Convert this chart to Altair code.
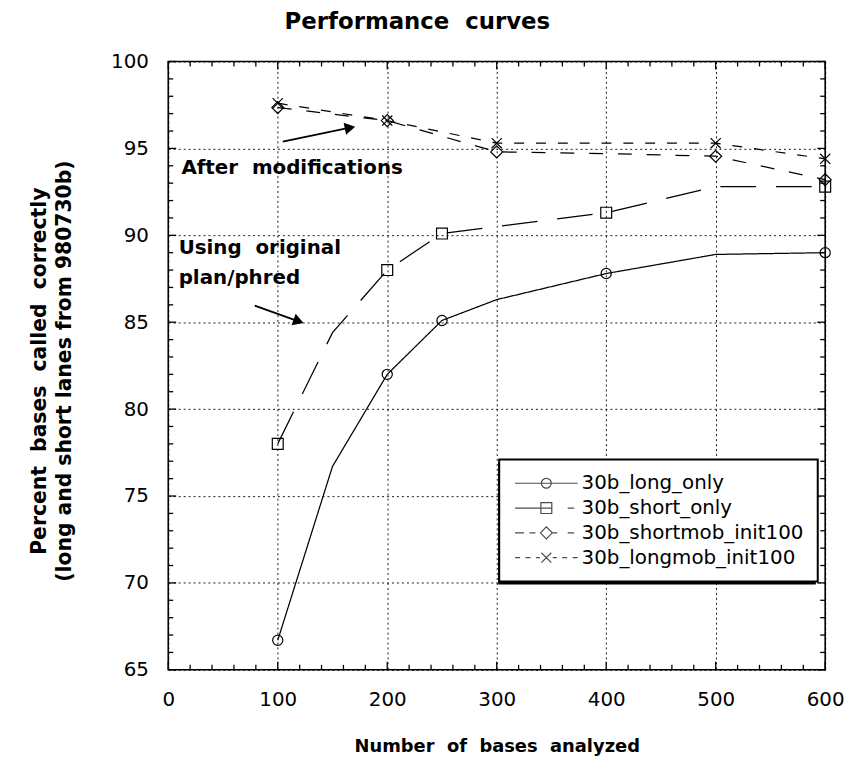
import math
import altair as alt
import pandas as pd

# ---------------- data ----------------
SERIES = ["30b_long_only", "30b_short_only", "30b_shortmob_init100", "30b_longmob_init100"]

long_x = [100, 150, 200, 250, 300, 400, 500, 600]
long_y = [66.7, 76.7, 82.0, 85.1, 86.3, 87.8, 88.9, 89.0]
long_m = [1, 0, 1, 1, 0, 1, 0, 1]

short_x = [100, 150, 200, 250, 300, 400, 500, 600]
short_y = [78.0, 84.4, 88.0, 90.1, 90.5, 91.3, 92.8, 92.8]
short_m = [1, 0, 1, 1, 0, 1, 0, 1]

smob_x = [100, 200, 300, 400, 500, 600]
smob_y = [97.35, 96.6, 94.8, 94.7, 94.55, 93.2]
smob_m = [1, 1, 1, 0, 1, 1]

lmob_x = [100, 200, 300, 400, 500, 600]
lmob_y = [97.6, 96.6, 95.3, 95.3, 95.3, 94.4]
lmob_m = [1, 1, 1, 0, 1, 1]

x_domain = [0, 600]
y_domain = [65, 100]
x_major = [0, 100, 200, 300, 400, 500, 600]
x_minor = [20, 40, 60, 80, 120, 140, 160, 180, 220, 240, 260, 280, 320, 340, 360, 380,
           420, 440, 460, 480, 520, 540, 560, 580]
y_major = [65, 70, 75, 80, 85, 90, 95, 100]
y_minor = [66, 67, 68, 69, 71, 72, 73, 74, 76, 77, 78, 79, 81, 82, 83, 84, 86, 87, 88, 89,
           91, 92, 93, 94, 96, 97, 98, 99]

ann_text = ["After\u00a0 modifications", "Using\u00a0 original", "plan/phred"]
ann_x = [12, 9.5, 9.5]
ann_y = [93.85, 89.25, 87.55]

arrow_x = [104.6, 79]
arrow_y = [95.39, 85.95]
arrow_x2 = [166, 119]
arrow_y2 = [96.19, 85.05]

# ---------------- styles ----------------
FONT = "DejaVu Sans"
W, H = 662, 613
DASHES = [[1, 0], [36, 20], [14, 15], [10, 12]]
X_PATH = "M-1,-1L1,1M-1,1L1,-1"
MARKER_SHAPES = ["circle", "square", "diamond", X_PATH]
MARKER_SIZES = [105, 120, 145, 105]
LEGEND_PATHS = [
    "M-6.3,0L6.3,0M-1,0A1,1 0 1,0 1,0A1,1 0 1,0 -1,0",
    "M-6.3,0L1.1,0M-1.1,-1.1L1.1,-1.1L1.1,1.1L-1.1,1.1Z M4.3,0L5.6,0",
    "M-6.3,0L-4.5,0M-3.4,0L-2.2,0M-1.2,0L0,-1.2L1.2,0L0,1.2Z M1.2,0L2.2,0M4.3,0L5.6,0",
    "M-6.3,0L-5.3,0M-4.2,0L-3.2,0M-2.1,0L-1.3,0M-1,-1L1,1M-1,1L1,-1M1.3,0L2.1,0M3.2,0L4.2,0M5.3,0L6.3,0",
]
MAJOR_LEN, MINOR_LEN = 8, 5
LEG_X, LEG_Y = 333.5, 401          # legend position inside the plot (px)
BOX = dict(left=328.5, right=648.5, top=400, bottom=523)   # legend frame as drawn (px)
SH = 4                                                     # drop shadow offset (px)

rows = []
for s, xs_, ys_, ms_ in zip(SERIES, [long_x, short_x, smob_x, lmob_x],
                            [long_y, short_y, smob_y, lmob_y],
                            [long_m, short_m, smob_m, lmob_m]):
    for a, b, m in zip(xs_, ys_, ms_):
        rows.append({"series": s, "x": a, "y": b, "marker": m})
df = pd.DataFrame(rows)

df_ann = pd.DataFrame({"text": ann_text, "x": ann_x, "y": ann_y})
df_arrow = pd.DataFrame({"x": arrow_x, "y": arrow_y, "x2": arrow_x2, "y2": arrow_y2})
df_arrow["angle"] = [
    math.degrees(math.atan2(-(b2 - b) * H / 35.0, (a2 - a) * W / 600.0)) % 360
    for a, b, a2, b2 in zip(arrow_x, arrow_y, arrow_x2, arrow_y2)
]


def px_to_x(p):
    return x_domain[0] + p * (x_domain[1] - x_domain[0]) / W


def px_to_y(p):
    return y_domain[1] - p * (y_domain[1] - y_domain[0]) / H


df_shadow = pd.DataFrame({
    "x": [px_to_x(BOX["left"] + SH)], "x2": [px_to_x(BOX["right"] + SH)],
    "y": [px_to_y(BOX["top"] + SH)], "y2": [px_to_y(BOX["bottom"] + SH)],
})

xs = alt.Scale(domain=x_domain, nice=False, zero=False)
ys = alt.Scale(domain=y_domain, nice=False, zero=False)

x_label_axis = alt.Axis(
    orient="bottom", values=x_major, grid=True, gridDash=[2, 3], gridColor="black",
    gridWidth=1, gridOpacity=0.9, ticks=False, domain=False, labelFont=FONT,
    labelFontSize=20, labelColor="black", labelPadding=20, labelFlush=False,
    labelOverlap=False, title="Number\u00a0 of\u00a0 bases\u00a0 analyzed", titleFont=FONT,
    titleFontSize=18, titleFontWeight="bold", titleColor="black",
    titleX=W / 2, titleY=77, titleBaseline="middle", titleAlign="center",
)
y_label_axis = alt.Axis(
    orient="left", values=y_major, grid=True, gridDash=[2, 3], gridColor="black",
    gridWidth=1, gridOpacity=0.9, ticks=False, domain=False, labelFont=FONT,
    labelFontSize=20, labelColor="black", labelPadding=20, labelFlush=False,
    labelOverlap=False,
    title=["Percent\u00a0 bases\u00a0 called\u00a0 correctly", "(long and short lanes from 980730b)"],
    titleFont=FONT, titleFontSize=20.5, titleFontWeight="bold", titleColor="black",
    titleAngle=-90, titleX=-130, titleY=H / 2 + 5, titleBaseline="middle",
    titleAlign="center", titleLineHeight=25,
)

NOAX_X = alt.X("x:Q", scale=xs, axis=None)
NOAX_Y = alt.Y("y:Q", scale=ys, axis=None)

layers = []

for i, (s, dash) in enumerate(zip(SERIES, DASHES)):
    if i == 0:
        enc = dict(x=alt.X("x:Q", scale=xs, axis=x_label_axis),
                   y=alt.Y("y:Q", scale=ys, axis=y_label_axis))
    else:
        enc = dict(x=NOAX_X, y=NOAX_Y)
    layers.append(
        alt.Chart(df).transform_filter(alt.datum.series == s)
        .mark_line(color="black", strokeWidth=1.25, strokeDash=dash)
        .encode(order="x:Q", **enc)
    )

# legend drop shadow (box offset down-right, drawn under the legend frame)
layers.append(
    alt.Chart(df_shadow).mark_rect(color="black", opacity=1)
    .encode(x=NOAX_X, x2="x2:Q", y=NOAX_Y, y2="y2:Q")
)

# inward tick marks on all four sides
for vals, ln in [(x_major, MAJOR_LEN), (x_minor, MINOR_LEN)]:
    for edge, sign in [(y_domain[0], -1), (y_domain[1], 1)]:
        tdf = pd.DataFrame({"x": vals, "y": [edge] * len(vals)})
        layers.append(
            alt.Chart(tdf).mark_tick(orient="vertical", size=ln, thickness=1.3, color="black",
                                     opacity=1, yOffset=sign * ln / 2)
            .encode(x=NOAX_X, y=NOAX_Y)
        )
for vals, ln in [(y_major, MAJOR_LEN), (y_minor, MINOR_LEN)]:
    for edge, sign in [(x_domain[0], 1), (x_domain[1], -1)]:
        tdf = pd.DataFrame({"y": vals, "x": [edge] * len(vals)})
        layers.append(
            alt.Chart(tdf).mark_tick(orient="horizontal", size=ln, thickness=1.3, color="black",
                                     opacity=1, xOffset=sign * ln / 2)
            .encode(x=NOAX_X, y=NOAX_Y)
        )

for s, shp, sz in zip(SERIES, MARKER_SHAPES, MARKER_SIZES):
    layers.append(
        alt.Chart(df)
        .transform_filter((alt.datum.series == s) & (alt.datum.marker == 1))
        .mark_point(shape=shp, size=sz, filled=False, color="black", strokeWidth=1.2, opacity=1)
        .encode(x=NOAX_X, y=NOAX_Y)
    )

layers.append(
    alt.Chart(df_ann).mark_text(align="left", baseline="middle", font=FONT, fontSize=20,
                                fontWeight="bold", color="black")
    .encode(x=NOAX_X, y=NOAX_Y, text="text:N")
)
layers.append(
    alt.Chart(df_arrow).mark_rule(color="black", strokeWidth=1.8)
    .encode(x=NOAX_X, y=NOAX_Y, x2="x2:Q", y2="y2:Q")
)
layers.append(
    alt.Chart(df_arrow).mark_point(shape="triangle-right", filled=True, size=150, color="black", opacity=1)
    .encode(x=alt.X("x2:Q", scale=xs, axis=None), y=alt.Y("y2:Q", scale=ys, axis=None),
            angle=alt.Angle("angle:Q", scale=None))
)

legend_layer = alt.Chart(df).transform_filter("false").mark_point(
    filled=False, color="black", strokeWidth=1.2
).encode(
    x=NOAX_X,
    y=NOAX_Y,
    shape=alt.Shape(
        "series:N",
        scale=alt.Scale(domain=SERIES, range=LEGEND_PATHS),
        legend=alt.Legend(
            orient="none", legendX=LEG_X, legendY=LEG_Y, title=None,
            labelFont=FONT, labelFontSize=20, labelColor="black",
            symbolSize=100, symbolStrokeWidth=1.2, symbolStrokeColor="black",
            symbolFillColor="transparent", symbolOffset=23.5, labelOffset=25.5,
            rowPadding=5, padding=14, strokeColor="black", fillColor="white",
            cornerRadius=0, labelLimit=400,
        ),
    ),
)
layers.append(legend_layer)

chart = (
    alt.layer(*layers)
    .resolve_axis(x="independent", y="independent")
    .properties(
        width=W, height=H,
        title=alt.TitleParams("Performance\u00a0 curves", font=FONT, fontSize=23, fontWeight="bold",
                              color="black", anchor="middle", dx=-80, offset=18),
        autosize=alt.AutoSizeParams(type="none"),
        padding={"left": 161.5, "top": 51, "right": 24, "bottom": 92},
        background="white",
    )
    .configure_view(stroke="black", strokeWidth=1.6)
    .configure_legend(strokeWidth=2)
)

chart.save("out.html", embed_options={"renderer": "svg", "actions": False})
